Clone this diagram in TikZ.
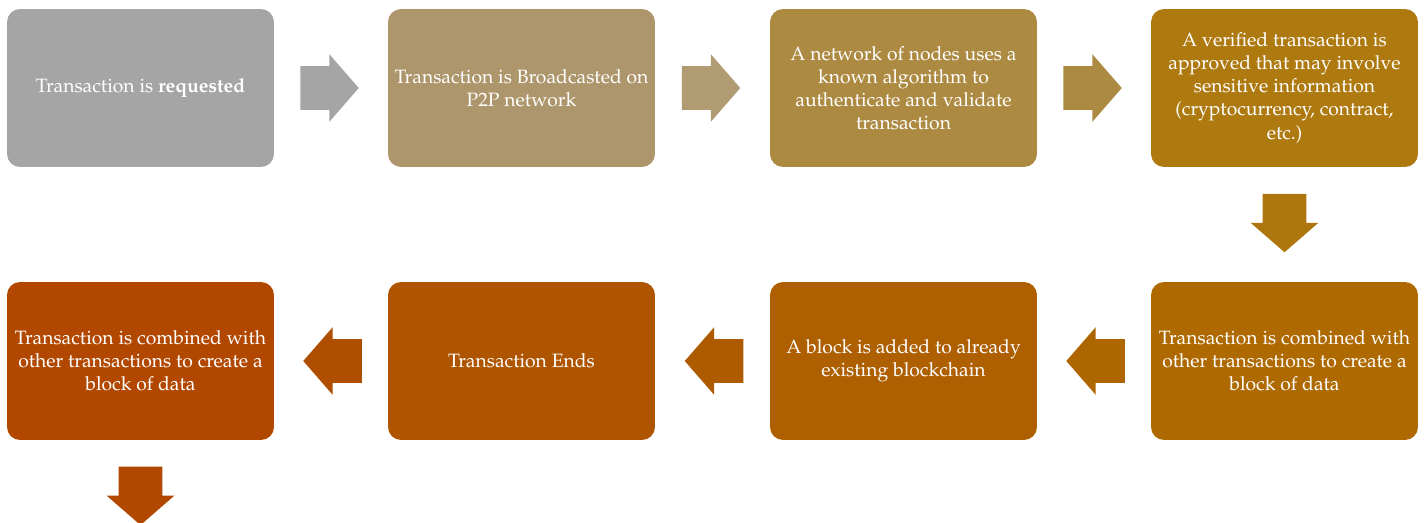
\documentclass[tikz,border=0pt]{standalone}
\usepackage[T1]{fontenc}
\usepackage{mathpazo}
\usetikzlibrary{shapes.arrows,calc}

\definecolor{stepA}{HTML}{A5A5A5}
\definecolor{stepB}{HTML}{AD966B}
\definecolor{stepC}{HTML}{AD8A42}
\definecolor{stepD}{HTML}{AE7A10}
\definecolor{stepE}{HTML}{AE6A00}
\definecolor{stepF}{HTML}{AE5F00}
\definecolor{stepG}{HTML}{AF5500}
\definecolor{stepH}{HTML}{B24800}

\begin{document}
\begin{tikzpicture}[x=0.02cm,y=-0.02cm,
  stage/.style={rounded corners=0.26cm,minimum width=5.34cm,minimum height=3.16cm,
    inner sep=0pt,text=white,align=center,font=\fontsize{11}{13.1}\selectfont},
  flow/.style={single arrow,draw=none,inner xsep=0pt,inner ysep=0.43cm,minimum height=1.17cm,
    single arrow head extend=0.24cm,single arrow tip angle=98}]
  \useasboundingbox (0,0) rectangle (1426,522);
  \node[stage,fill=stepA] (req) at (140.5,88) {Transaction is \textbf{requested}};
  \node[stage,fill=stepB] (bcast) at (521.5,88) {Transaction is Broadcasted on\\P2P network};
  \node[stage,fill=stepC] (auth) at (903.5,88) {A network of nodes uses a\\known algorithm to\\authenticate and validate\\transaction};
  \node[stage,fill=stepD] (verify) at (1284.5,88) {A verified transaction is\\approved that may involve\\sensitive information\\(cryptocurrency, contract,\\etc.)};
  \node[stage,fill=stepE] (combine) at (1284.5,361) {Transaction is combined with\\other transactions to create a\\block of data};
  \node[stage,fill=stepF] (added) at (903.5,361) {A block is added to already\\existing blockchain};
  \node[stage,fill=stepG] (ends) at (521.5,361) {Transaction Ends};
  \node[stage,fill=stepH] (block) at (140.5,361) {Transaction is combined with\\other transactions to create a\\block of data};
  % the arrow shape sits ahead of its centre, so pull each one back a little
  \node[flow,fill=stepA] (a1) at ($(req.east)!0.5!(bcast.west)+(-11,0)$) {};
  \node[flow,fill=stepB!95!white] (a2) at ($(bcast.east)!0.5!(auth.west)+(-11,0)$) {};
  \node[flow,fill=stepC] (a3) at ($(auth.east)!0.5!(verify.west)+(-11,0)$) {};
  \node[flow,fill=stepD!80!stepE,rotate=-90] (a4) at ($(verify.south)!0.5!(combine.north)+(0,-11)$) {};
  \node[flow,fill=stepE!70!stepF,rotate=180] (a5) at ($(combine.west)!0.5!(added.east)+(11,0)$) {};
  \node[flow,fill=stepF!60!stepG,rotate=180] (a6) at ($(added.west)!0.5!(ends.east)+(11,0)$) {};
  \node[flow,fill=stepG!50!stepH,rotate=180] (a7) at ($(ends.west)!0.5!(block.east)+(11,0)$) {};
  \node[flow,fill=stepH,rotate=-90] (a8) at ($(block.south)+(0,46)$) {};
\end{tikzpicture}
\end{document}
